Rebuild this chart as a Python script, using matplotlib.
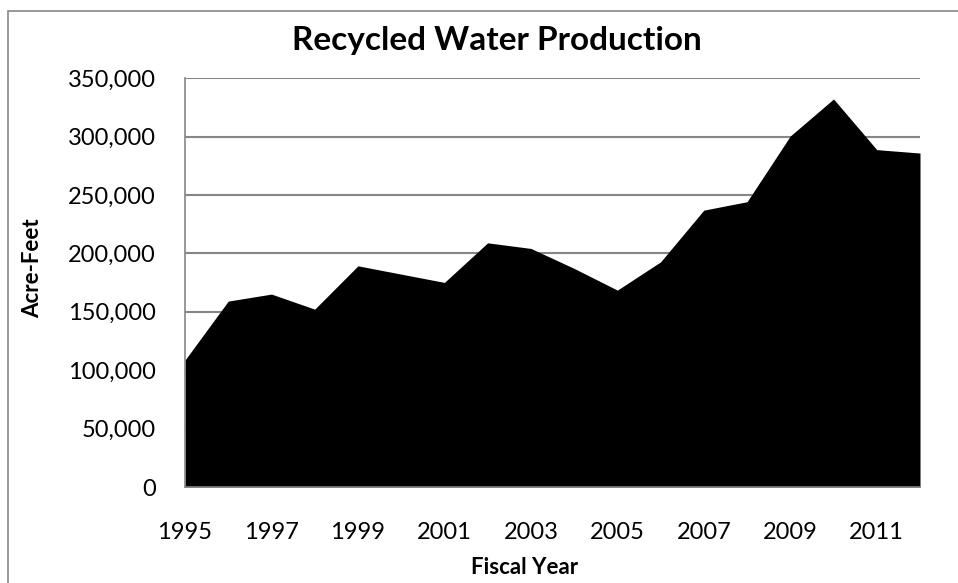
import matplotlib
matplotlib.use("Agg")
import matplotlib.pyplot as plt
from matplotlib.ticker import FuncFormatter, MultipleLocator
from matplotlib.patches import Rectangle

years = [1995, 1996, 1997, 1998, 1999, 2000, 2001, 2002, 2003, 2004,
         2005, 2006, 2007, 2008, 2009, 2010, 2011, 2012]
acre_feet = [108700, 159200, 165200, 152300, 189400, 182300, 175200, 209100,
             204300, 187200, 168600, 192800, 237100, 244300, 300600, 332300,
             288900, 286000]
x_tick_years = [1995, 1997, 1999, 2001, 2003, 2005, 2007, 2009, 2011]

title = "Recycled Water Production"
x_title = "Fiscal Year"
y_title = "Acre-Feet"

FONT = ["Lato", "DejaVu Sans"]
GRAY = "#868686"

W, H = 958, 583
fig = plt.figure(figsize=(W / 100, H / 100), dpi=100)
fig.patch.set_facecolor("white")

# outer chart border (left and top visible, rest cropped)
fig.patches.append(Rectangle((8 / W, -0.5), 2.0, 1.5 - 11 / H,
                             transform=fig.transFigure, fill=False,
                             edgecolor=GRAY, linewidth=1.2))

left, right, bottom, top = 185, 920, 487, 78.3
ax = fig.add_axes([left / W, 1 - bottom / H, (right - left) / W, (bottom - top) / H])

ax.fill_between(years, acre_feet, 0, color="black", linewidth=0, zorder=3)

ax.set_xlim(1995, 2012)
ax.set_ylim(0, 350000)
ax.yaxis.set_major_locator(MultipleLocator(50000))
ax.yaxis.set_major_formatter(FuncFormatter(lambda v, p: f"{int(v):,}"))
ax.set_xticks(x_tick_years)
ax.set_xticklabels([str(y) for y in x_tick_years])

ax.grid(axis="y", color=GRAY, linewidth=1.5, zorder=1)
ax.set_axisbelow(True)
for s in ["top", "right"]:
    ax.spines[s].set_visible(False)
for s in ["left", "bottom"]:
    ax.spines[s].set_color(GRAY)
    ax.spines[s].set_linewidth(1.2)
    ax.spines[s].set_zorder(4)

ax.tick_params(axis="both", length=0, labelsize=17, labelcolor="black")
ax.tick_params(axis="y", pad=21)
ax.tick_params(axis="x", pad=25)
for lab in ax.get_xticklabels() + ax.get_yticklabels():
    lab.set_family(FONT)

ax.set_ylabel(y_title, fontsize=16, fontweight="bold", family=FONT, va="center")
ax.yaxis.set_label_coords((33 - left) / (right - left), (bottom - 268) / (bottom - top))
ax.set_xlabel(x_title, fontsize=16, fontweight="bold", family=FONT, va="center")
ax.xaxis.set_label_coords((525 - left) / (right - left), (bottom - 567) / (bottom - top))

fig.text(497 / W, 1 - 50 / H, title, ha="center", va="baseline",
         fontsize=24, fontweight="bold", family=FONT)

fig.savefig("out.png", dpi=100, facecolor="white")
